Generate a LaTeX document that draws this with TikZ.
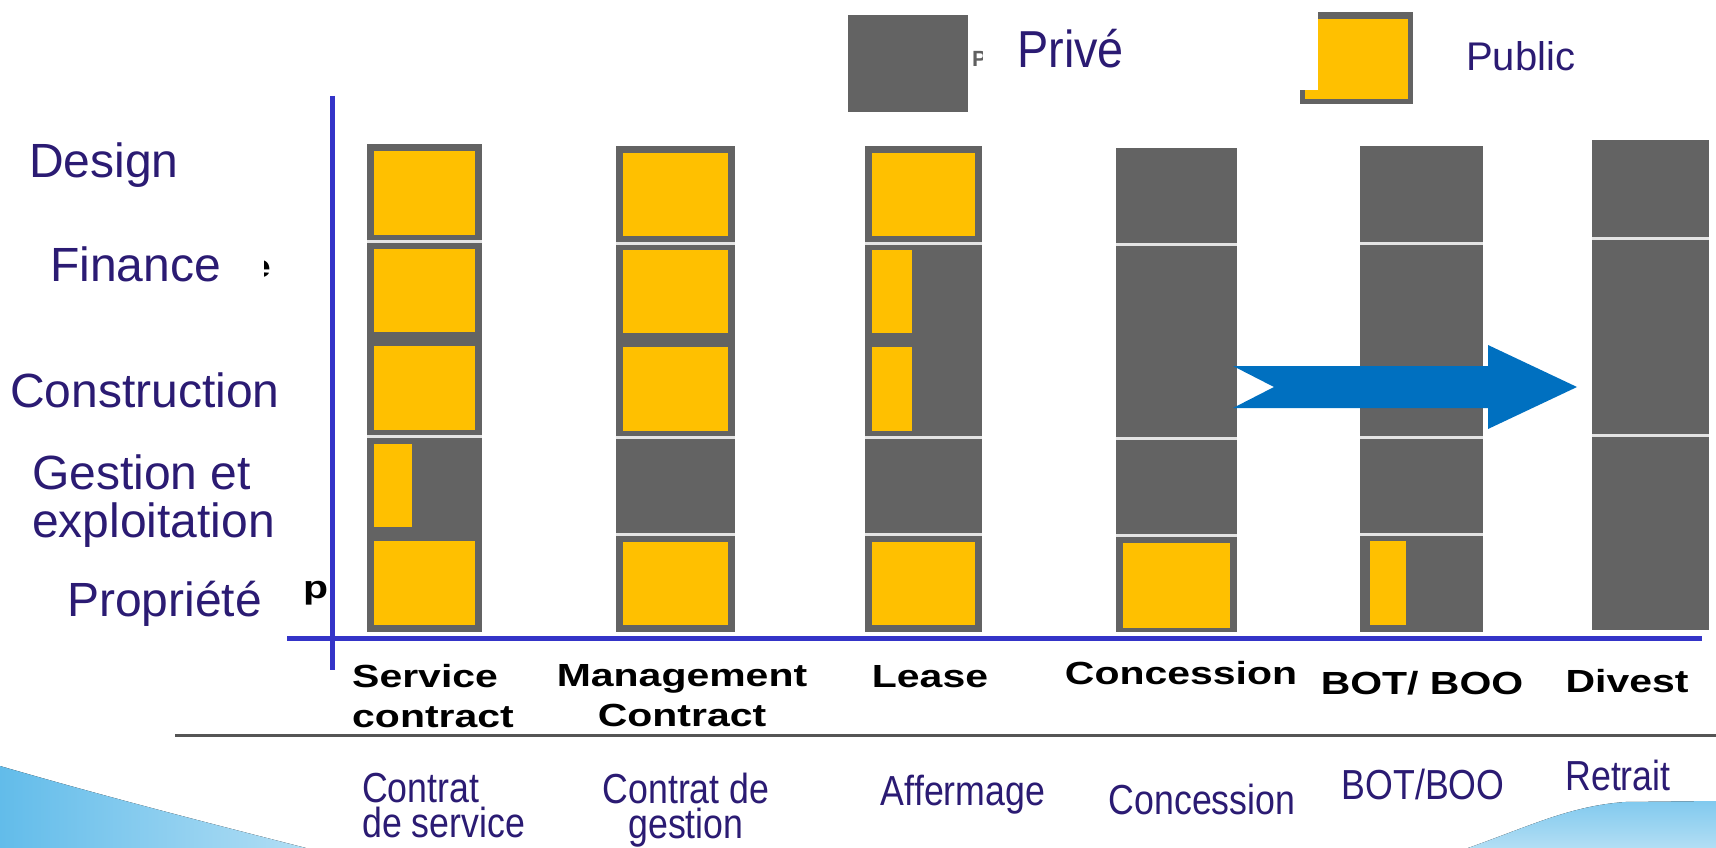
\documentclass[tikz,border=0pt]{standalone}
\usepackage{fontspec}
\setmainfont{Liberation Sans}
\newfontfamily\narrowf[FakeStretch=0.85]{Liberation Sans}
\newfontfamily\priveF[FakeStretch=0.9]{Liberation Sans}
\newfontfamily\widef[FakeStretch=1.28]{Liberation Sans}
\definecolor{navy}{RGB}{43,27,115}
\definecolor{cgray}{RGB}{99,99,99}
\definecolor{corange}{RGB}{255,192,0}
\definecolor{axisblue}{RGB}{52,52,200}
\definecolor{arrowblue}{RGB}{0,112,192}
\definecolor{sepline}{RGB}{228,228,228}
\definecolor{swA}{RGB}{98,188,234}
\definecolor{swB}{RGB}{178,222,244}
\definecolor{baseg}{RGB}{85,85,85}
\begin{document}
\begin{tikzpicture}[x=1pt,y=-1pt,
  rowlabel/.style={text=navy,font=\fontsize{48}{48}\selectfont,inner sep=0pt,anchor=base west},
  enlabel/.style={text=black,font=\widef\bfseries\fontsize{32}{40}\selectfont,inner sep=0pt,anchor=base},
  frlabel/.style={text=navy,font=\narrowf\fontsize{42}{35}\selectfont,inner sep=0pt,anchor=base},
  colbar/.style={fill=cgray},
  pubcell/.style={fill=corange},
  sepl/.style={draw=sepline,line width=3pt},
  axis/.style={draw=axisblue,line width=5pt},
  artifact/.style={text=black,font=\widef\bfseries\fontsize{32}{40}\selectfont,inner sep=0pt,anchor=base west}]
\useasboundingbox (0,0) rectangle (1716,848);
\fill[white] (0,0) rectangle (1716,848);

% swooshes
\fill[left color=swA,right color=swB] (0,766) .. controls (110,798) and (220,826) .. (306,848) -- (0,848) -- cycle;
\fill[top color=swA!80!white,bottom color=swB] (1468,848) .. controls (1530,826) and (1570,806) .. (1625,802) -- (1716,801) -- (1716,848) -- cycle;

% legend
\fill[cgray] (848,15) rectangle (968,112);
\node[text=gray!75!black,font=\bfseries\fontsize{22}{22}\selectfont,inner sep=0pt,anchor=base west] (pArt) at (972,67) {P};
\filldraw[fill=corange,draw=cgray,line width=5pt] (1302,15) rectangle (1410,102);
\fill[cgray] (1300,12) rectangle (1412,19);
\fill[white] (983,9) rectangle (1318,90);
\node[text=navy,font=\priveF\fontsize{52}{56}\selectfont,inner sep=0pt,anchor=base west] (prive) at (1017,68) {Privé};
\node[text=navy,font=\fontsize{40}{44}\selectfont,inner sep=0pt,anchor=base west] (public) at (1466,71) {Public};

% columns
% col1 Service contract
\fill[colbar] (367,144) rectangle (482,632);
\fill[pubcell] (374,151) rectangle (475,235);
\fill[pubcell] (374,249) rectangle (475,332);
\fill[pubcell] (374,346) rectangle (475,430);
\fill[pubcell] (374,444) rectangle (412,527);
\fill[pubcell] (374,541) rectangle (475,625);
\draw[sepl] (367,241.6) -- (482,241.6);
\draw[sepl] (367,436.8) -- (482,436.8);
% col2 Management contract
\fill[colbar] (616,146) rectangle (735,632);
\fill[pubcell] (623,153) rectangle (728,236);
\fill[pubcell] (623,250) rectangle (728,333);
\fill[pubcell] (623,347) rectangle (728,431);
\fill[pubcell] (623,542) rectangle (728,625);
\draw[sepl] (616,243.2) -- (735,243.2);
\draw[sepl] (616,437.6) -- (735,437.6);
\draw[sepl] (616,534.8) -- (735,534.8);
% col3 Lease
\fill[colbar] (865,146) rectangle (982,632);
\fill[pubcell] (872,153) rectangle (975,236);
\fill[pubcell] (872,250) rectangle (912,333);
\fill[pubcell] (872,347) rectangle (912,431);
\fill[pubcell] (872,542) rectangle (975,625);
\draw[sepl] (865,243.2) -- (982,243.2);
\draw[sepl] (865,437.6) -- (982,437.6);
\draw[sepl] (865,534.8) -- (982,534.8);
% col4 Concession
\fill[colbar] (1116,148) rectangle (1237,632);
\fill[pubcell] (1123,543) rectangle (1230,628);
\draw[sepl] (1116,244.8) -- (1237,244.8);
\draw[sepl] (1116,438.4) -- (1237,438.4);
\draw[sepl] (1116,535.2) -- (1237,535.2);
% col5 BOT/BOO
\fill[colbar] (1360,146) rectangle (1483,632);
\fill[pubcell] (1370,541) rectangle (1406,625);
\draw[sepl] (1360,243.2) -- (1483,243.2);
\draw[sepl] (1360,437.6) -- (1483,437.6);
\draw[sepl] (1360,534.8) -- (1483,534.8);
% col6 Divest
\fill[colbar] (1592,140) rectangle (1709,630);
\draw[sepl] (1592,238.4) -- (1709,238.4);
\draw[sepl] (1592,435.2) -- (1709,435.2);

% arrow
\fill[arrowblue] (1233,366) -- (1488,366) -- (1488,345) -- (1577,387) -- (1488,429) -- (1488,408) -- (1233,408) -- (1274,387) -- cycle;

% axes
\coordinate (vTop) at (332,96);
\coordinate (vBot) at (332,670);
\coordinate (hL) at (287,638);
\coordinate (hR) at (1702,638);
\draw[axis] (vTop) -- (vBot);
\draw[axis] (hL) -- (hR);
\coordinate (gL) at (175,735);
\coordinate (gR) at (1716,735);
\draw[baseg,line width=3pt] (gL) -- (gR);

% row labels
\node[artifact] (eArt) at (248,277) {e};
\fill[white] (226,250) rectangle (264,290);
\node[artifact] (pRow) at (303,598) {p};
\node[rowlabel] (design) at (29,178) {Design};
\node[rowlabel] (finance) at (50,281) {Finance};
\node[rowlabel] (constr) at (10,407) {Construction};
\node[rowlabel,align=left,anchor=north west] (gest) at (32,455) {Gestion et\\exploitation};
\node[rowlabel] (propr) at (67,616) {Propriété};

% English labels
\node[enlabel,align=left,anchor=north west] (en1) at (352,664) {Service\\contract};
\node[enlabel,align=center,anchor=north] (en2) at (682,664) {Management\\Contract};
\node[enlabel] (en3) at (930,687) {Lease};
\node[enlabel] (en4) at (1181,684) {Concession};
\node[enlabel] (en5) at (1422,694) {BOT/ BOO};
\node[enlabel] (en6) at (1627,692) {Divest};

% French labels
\node[frlabel,align=left,anchor=north west] (fr1) at (362,773) {Contrat\\de service};
\node[frlabel,align=center,anchor=north] (fr2) at (686,773) {Contrat de\\gestion};
\node[frlabel] (fr3) at (963,805) {Affermage};
\node[frlabel] (fr4) at (1202,814) {Concession};
\node[frlabel] (fr5) at (1423,799) {BOT/BOO};
\node[frlabel] (fr6) at (1618,790) {Retrait};
\end{tikzpicture}
\end{document}
